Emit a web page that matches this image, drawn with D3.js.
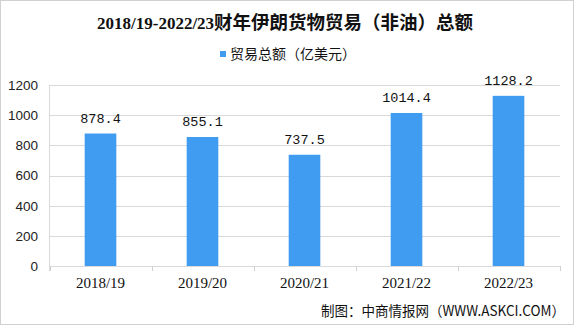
<!DOCTYPE html>
<html><head><meta charset="utf-8">
<script src="https://cdn.jsdelivr.net/npm/d3@7"></script>
<style>body{margin:0;background:#fff}svg{display:block}</style>
</head><body>
<script>
const categories = ["2018/19","2019/20","2020/21","2021/22","2022/23"];
const values = [878.4, 855.1, 737.5, 1014.4, 1128.2];
const yTicks = [0,200,400,600,800,1000,1200];
const titleLatin = "2018/19-2022/23";
const titleCJK = "财年伊朗货物贸易（非油）总额";
const seriesName = "贸易总额（亿美元）";
const source = "制图：中商情报网（WWW.ASKCI.COM）";

const W = 575, H = 326;
const svg = d3.select("body").append("svg").attr("width", W).attr("height", H);
svg.append("rect").attr("x",0.5).attr("y",0.5).attr("width",W-2).attr("height",H-2)
  .attr("fill","#fff").attr("stroke","#d0d0d0");

const x = d3.scaleBand().domain(categories).range([49.5, 559.5]).padding(0);
const y = d3.scaleLinear().domain([0,1200]).range([266, 85]);
const barW = x.bandwidth()*0.31;

// gridlines
svg.append("g").selectAll("line").data(yTicks).join("line")
  .attr("x1",49).attr("x2",560).attr("y1",d=>Math.round(y(d))+0.5).attr("y2",d=>Math.round(y(d))+0.5)
  .attr("stroke","#d9d9d9");
// y axis line
svg.append("line").attr("x1",49.5).attr("x2",49.5).attr("y1",y(1200)).attr("y2",y(0)+5).attr("stroke","#d9d9d9");
// x category ticks
svg.append("g").selectAll("line").data(d3.range(categories.length+1)).join("line")
  .attr("x1",i=>Math.round(49.5+i*x.bandwidth())+0.5).attr("x2",i=>Math.round(49.5+i*x.bandwidth())+0.5)
  .attr("y1",y(0)).attr("y2",y(0)+5).attr("stroke","#d0d0d0");

// y labels
svg.append("g").selectAll("text").data(yTicks).join("text")
  .attr("x",38).attr("y",d=>y(d)).attr("dy","0.36em").attr("text-anchor","end")
  .attr("font-family","Liberation Sans, Arial, sans-serif").attr("font-size",13.5).attr("fill","#222")
  .text(d=>d);

// bars
svg.append("g").selectAll("rect").data(values).join("rect")
  .attr("x",(d,i)=>x(categories[i])+x.bandwidth()/2-barW/2)
  .attr("width",barW)
  .attr("y",d=>y(d)).attr("height",d=>y(0)-y(d))
  .attr("fill","#3f9cf0");

// value labels
svg.append("g").selectAll("text").data(values).join("text")
  .attr("x",(d,i)=>x(categories[i])+x.bandwidth()/2).attr("y",d=>y(d)-11)
  .attr("text-anchor","middle")
  .attr("font-family","Liberation Mono, monospace").attr("font-size",13.5).attr("fill","#111")
  .text(d=>d.toFixed(1));

// x labels
svg.append("g").selectAll("text").data(categories).join("text")
  .attr("x",d=>x(d)+x.bandwidth()/2).attr("y",288)
  .attr("text-anchor","middle")
  .attr("font-family","Liberation Serif, serif").attr("font-size",15).attr("fill","#111")
  .text(d=>d);

// title
const t = svg.append("text").attr("x",97).attr("y",29).attr("font-weight","bold").attr("fill","#111");
t.append("tspan").attr("font-family","Liberation Serif, serif").attr("font-size",17).text(titleLatin);
t.append("tspan").attr("font-family","Noto Sans CJK SC, sans-serif").attr("font-size",18.5).text(titleCJK);

// legend
svg.append("rect").attr("x",220).attr("y",51).attr("width",6).attr("height",6).attr("fill","#3f9cf0");
svg.append("text").attr("x",230).attr("y",59)
  .attr("font-family","Noto Sans CJK SC, sans-serif").attr("font-size",14).attr("fill","#111").text(seriesName);

// source
svg.append("text").attr("x",321).attr("y",316)
  .attr("textLength",244).attr("lengthAdjust","spacingAndGlyphs")
  .attr("font-family","Noto Sans CJK SC, sans-serif").attr("font-size",14).attr("fill","#111").text(source);
</script>
</body></html>
